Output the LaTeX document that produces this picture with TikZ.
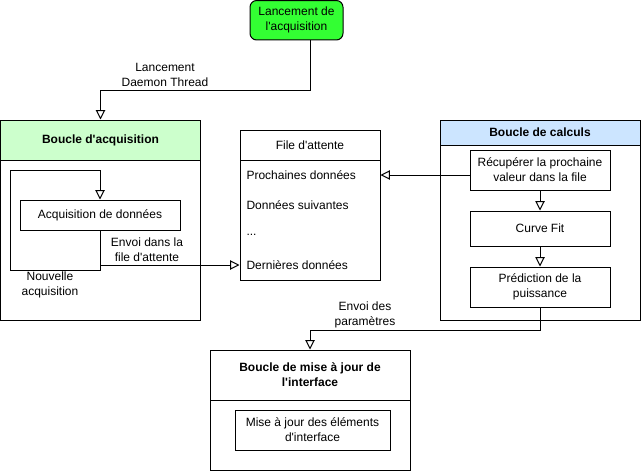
\documentclass[tikz,border=0pt]{standalone}
\usepackage{fontspec}
\setmainfont{Liberation Sans}[Ligatures=TeXOff]
\usetikzlibrary{positioning}
\usetikzlibrary{arrows.meta}
\definecolor{launchgreen}{HTML}{33FF33}
\definecolor{acqgreen}{HTML}{CCFFCC}
\definecolor{calcblue}{HTML}{CCE5FF}

\begin{document}
\begin{tikzpicture}[x=0.75pt, y=-0.75pt, line width=0.75pt, font=\fontsize{9}{11.25}\selectfont,
	box/.style={draw, inner sep=0pt, align=center},
	head/.style={box, font=\fontsize{9}{11.25}\selectfont\bfseries},
	item/.style={anchor=west, inner sep=0pt},
	arr/.style={-{Triangle[open, length=7pt, width=7pt]}},
	lbl/.style={align=center, inner sep=0pt}]
	\useasboundingbox (0,0) rectangle (642,471);

	\node [box, fill=launchgreen, rounded corners=5pt, minimum width=69.75pt, minimum height=29.6pt] (launch) at (296.5,20.25) {Lancement de\\l'acquisition};

	% acquisition loop
	\node [box, minimum width=150pt, minimum height=150pt] (acqloop) at (100.5,220) {};
	\node [head, fill=acqgreen, minimum width=150pt, minimum height=30pt] (acqhead) at (100.5,140) {Boucle d'acquisition};
	\node [box, minimum width=120pt, minimum height=22.5pt] (acq) at (100,215) {Acquisition de données};

	% queue
	\node [box, minimum width=105pt, minimum height=112.5pt] (queue) at (310,205) {};
	\node [box, minimum width=105pt, minimum height=22.5pt] (queuehead) at (310,145) {File d'attente};
	\node [item] (first) at (246,175) {Prochaines données};
	\node [item] (next) at (246,205) {Données suivantes};
	\node [item] (dots) at (246,235) {...};
	\node [item] (last) at (246,265) {Dernières données};

	% calculation loop
	\node [box, minimum width=150pt, minimum height=150pt] (calc) at (540,220) {};
	\node [head, fill=calcblue, minimum width=150pt, minimum height=18.75pt] (calchead) at (540,132.5) {Boucle de calculs};
	\node [box, minimum width=105pt, minimum height=30pt] (fetch) at (540,170) {Récupérer la prochaine\\valeur dans la file};
	\node [box, minimum width=105pt, minimum height=26.25pt, below=15pt of fetch] (fit) {Curve Fit};
	\node [box, minimum width=105pt, minimum height=30pt, below=15pt of fit] (predict) {Prédiction de la\\puissance};

	% interface loop
	\node [box, minimum width=150pt, minimum height=90pt] (ui) at (310,410) {};
	\node [head, minimum width=150pt, minimum height=37.5pt] (uihead) at (310,375) {Boucle de mise à jour de\\l'interface};
	\node [box, minimum width=116.25pt, minimum height=30pt] (uiel) at (312.5,430) {Mise à jour des éléments\\d'interface};

	% connectors
	\coordinate (launchturn) at (310,90);
	\draw[arr] (launch.south -| launchturn) -- (launchturn) -| (acqhead.north);
	\node [lbl] (launchlbl) at (165,75) {Lancement\\Daemon Thread};

	\coordinate (loopbl) at (10,270);
	\coordinate (looptl) at (10,170);
	\draw[arr] (acq.south) |- (loopbl) -- (looptl) -| (acq.north);
	\node [lbl] (looplbl) at (50,285) {Nouvelle\\acquisition};

	\coordinate (sendstart) at (100,265);
	\draw[arr] (sendstart) -- (queue.west |- last);
	\node [lbl] (sendlbl) at (147,250) {Envoi dans la\\file d'attente};

	\draw[arr] (fetch.west |- first) -- (queue.east |- first);
	\draw[arr] (fetch) -- (fit);
	\draw[arr] (fit) -- (predict);

	\coordinate (paramturn) at (540,330);
	\draw[arr] (predict.south) -- (paramturn) -| (uihead.north);
	\node [lbl] (paramlbl) at (365,315) {Envoi des\\paramètres};
\end{tikzpicture}
\end{document}
